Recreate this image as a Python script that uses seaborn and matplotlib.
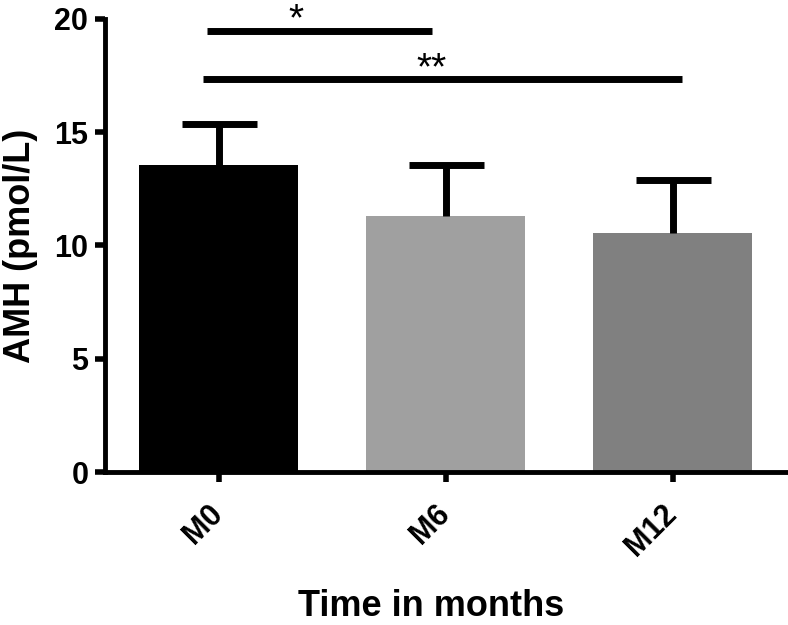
import matplotlib
matplotlib.use('Agg')
import matplotlib.pyplot as plt
import seaborn as sns
import pandas as pd
import numpy as np

# ---- data ----
categories = ['M0', 'M6', 'M12']
means = [13.55, 11.3, 10.55]
err_upper = [1.8, 2.25, 2.35]
bar_colors = ['#000000', '#a0a0a0', '#808080']
y_ticks = [0, 5, 10, 15, 20]
sig_labels = ['*', '**']
sig_y = [19.48, 17.34]
sig_start = [-0.05, -0.07]
sig_end = [0.94, 2.04]
sig_text_x = [0.34, 0.94]

sns.set_theme(style='ticks')
plt.rcParams['font.family'] = ['Liberation Sans', 'DejaVu Sans']
for key in ['text.color', 'axes.labelcolor', 'xtick.color', 'ytick.color',
            'axes.edgecolor']:
    plt.rcParams[key] = 'black'

fig = plt.figure(figsize=(7.88, 6.25), dpi=100)
ax = fig.add_axes([105 / 788, 1 - 472 / 625, 681 / 788, 453 / 625])

df = pd.DataFrame({'Time': categories, 'AMH': means})
sns.barplot(data=df, x='Time', y='AMH', hue='Time', palette=bar_colors,
            width=0.7, errorbar=None, legend=False, ax=ax, saturation=1,
            linewidth=0)

xpos = ax.get_xticks()
eb = ax.errorbar(xpos, means, yerr=[np.zeros(len(means)), err_upper], fmt='none',
                 ecolor='black', elinewidth=5, capsize=27, capthick=5, zorder=3)
# keep only the upper caps
caplines = eb[1]
if len(caplines) == 2:
    caplines[0].set_visible(False)

for lab, y, x0, x1, tx in zip(sig_labels, sig_y, sig_start, sig_end, sig_text_x):
    ax.plot([x0, x1], [y, y], color='black', lw=5, solid_capstyle='butt',
            clip_on=False, zorder=4)
    ax.text(tx, y, lab, ha='center', va='baseline', fontsize=28,
            color='black', clip_on=False)

ax.set_xlim(-0.5, 2.5)
ax.set_ylim(0, 20)
ax.set_yticks(y_ticks)
ax.set_yticklabels([str(t) for t in y_ticks])

sns.despine(ax=ax)
for side in ['left', 'bottom']:
    ax.spines[side].set_linewidth(3.5)
    ax.spines[side].set_color('black')

ax.tick_params(axis='both', width=4, length=7, color='black', labelcolor='black')
ax.tick_params(axis='y', labelsize=22, pad=5)
ax.tick_params(axis='x', labelsize=22, pad=20)
for t in ax.get_yticklabels():
    t.set_fontweight('bold')
for t in ax.get_xticklabels():
    t.set_fontweight('bold')
    t.set_rotation(45)
    t.set_ha('right')
    t.set_va('center')
    t.set_rotation_mode('anchor')

ax.set_xlabel('Time in months', fontsize=26, fontweight='bold', color='black')
ax.set_ylabel('AMH (pmol/L)', fontsize=26, fontweight='bold', color='black')
ax.xaxis.label.set_va('baseline')
ax.xaxis.set_label_coords(0.479, -0.318)
ax.yaxis.set_label_coords(-0.098, 0.5)

fig.savefig('out.png', dpi=100)
